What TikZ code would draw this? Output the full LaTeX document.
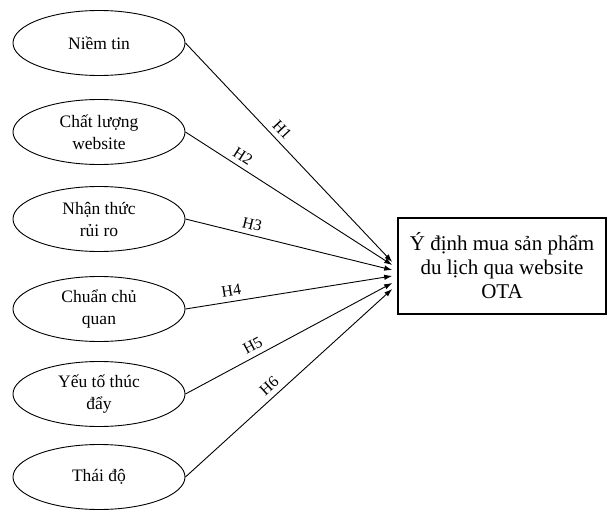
\documentclass[tikz,border=0pt]{standalone}
\usepackage{fontspec}
\setmainfont{Liberation Serif}
\usetikzlibrary{arrows.meta}
\usetikzlibrary{shapes.geometric}

\tikzset{
	factor/.style={draw, ellipse, line width=0.9pt, minimum width=172pt, minimum height=65pt,
		inner sep=0pt, align=center, font=\fontsize{17.5}{22}\selectfont},
	target/.style={draw, rectangle, line width=1.6pt, minimum width=208pt, minimum height=96pt,
		align=center, font=\fontsize{21}{24}\selectfont},
	hypo/.style={-{Latex[length=8pt,width=5.5pt]}, line width=0.9pt},
	hlabel/.style={sloped, above=4pt, inner sep=1pt, font=\fontsize{16}{18}\selectfont}
}

\begin{document}
\begin{tikzpicture}[x=1pt, y=-1pt]
	\useasboundingbox (0,0) rectangle (610,514);

	\node[target] (ota) at (502,266)
		{Ý định mua sản phẩm\\du lịch qua website\\OTA};

	\foreach \i/\txt/\y/\sh/\p in {
		1/{Niềm tin}/43/4/0.43,
		2/{Chất lượng\\website}/132/1/0.25,
		3/{Nhận thức\\rủi ro}/219/-4/0.31,
		4/{Chuẩn chủ\\quan}/309/-10/0.23,
		5/{Yếu tố thúc\\đẩy}/394/-17/0.35,
		6/{Thái độ}/477/-23/0.44}{
		
		\node[factor] (f\i) at (99,\y) {\txt};
		
		\coordinate (t\i) at ([xshift=-5pt, yshift=\sh pt]ota.west);
		
		\draw[hypo]
			(f\i.east) -- (t\i) node[hlabel, pos=\p] {H\i};
	}
\end{tikzpicture}
\end{document}
